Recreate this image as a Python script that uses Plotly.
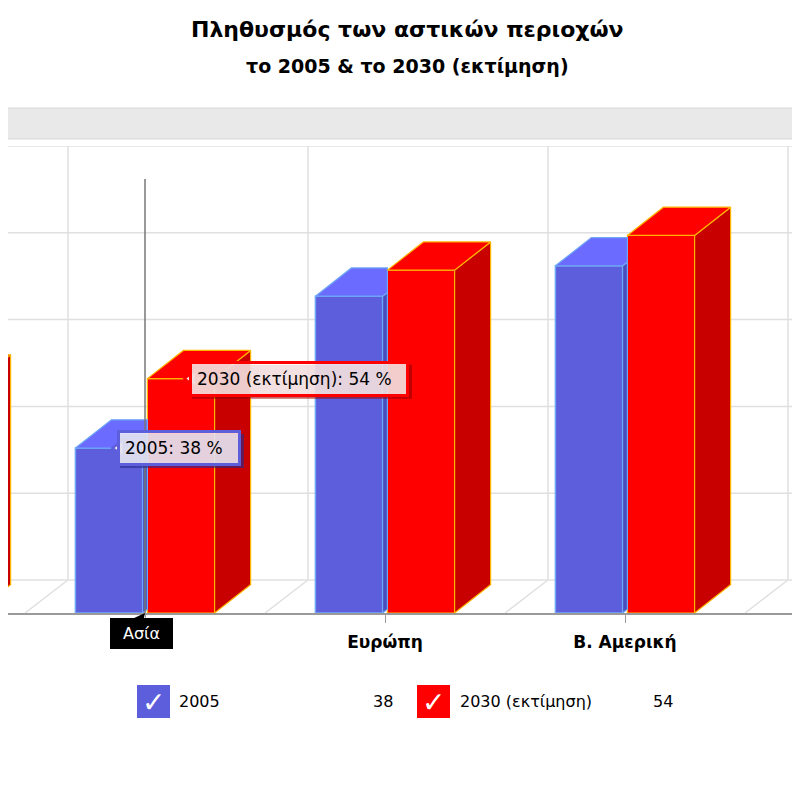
import plotly.graph_objects as go

# data
categories = ["Αφρική", "Ασία", "Ευρώπη", "Β. Αμερική", "Λατ. Αμερική"]
values_2005 = [38, 38, 73, 80, 77]
values_2030 = [53, 54, 79, 87, 85]
series_names = ["2005", "2030 (εκτίμηση)"]
value_ticks = [0, 20, 40, 60, 80, 100]
hover_index = 1  # the category under the cursor (Ασία)

# geometry of the fake 3D
BAR_W = 0.28
BLUE_OFF, RED_OFF = -0.29, 0.01
DEPTH_X, DEPTH_Y = 0.15, 6.5   # column depth
WALL_X, WALL_Y = 0.179, 7.6    # floor / back wall depth
PX = 1 / 240                   # one pixel in category units

BLUE, BLUE_TOP, BLUE_SIDE, BLUE_LINE = "#5c5edc", "#6b6cff", "#4a4cc0", "#6fa6f5"
RED, RED_TOP, RED_SIDE, RED_LINE = "#ff0000", "#ff0000", "#c80000", "#ffb400"
GRID = "#e0e0e0"
FONT = "DejaVu Sans"

idx = list(range(len(categories)))

# the page puts the figure 8px in from the top left corner;
# plot area on the page: rows 146..613, columns 8..808
T, B, OFF = 146, 613, 8


def py(px):
    """page pixel row -> paper y"""
    return (B - px) / (B - T)


def px_(px):
    """page pixel column -> paper x"""
    return (px - OFF) / 800


def box_faces(offset, vals, clip_to=None):
    """top and side faces of each column; clip_to cuts them at the next column's front"""
    top_x, top_y, side_x, side_y = [], [], [], []
    for i, v in zip(idx, vals):
        l = i + offset
        r = l + BAR_W
        if clip_to is None:
            tx = [l, r, r + DEPTH_X, l + DEPTH_X, l]
            ty = [v, v, v + DEPTH_Y, v + DEPTH_Y, v]
            sx = [r, r, r + DEPTH_X, r + DEPTH_X, r]
            sy = [0, v, v + DEPTH_Y, DEPTH_Y, 0]
        else:
            c = i + clip_to
            t = (c - r) / DEPTH_X
            tx = [l, r, c, c, l + DEPTH_X, l]
            ty = [v, v, v + DEPTH_Y * t, v + DEPTH_Y, v + DEPTH_Y, v]
            sx = [r, r, c, c, r]
            sy = [0, v, v + DEPTH_Y * t, DEPTH_Y * t, 0]
        top_x += tx + [None]
        top_y += ty + [None]
        side_x += sx + [None]
        side_y += sy + [None]
    return top_x, top_y, side_x, side_y


fig = go.Figure()

# front faces
fig.add_trace(go.Bar(x=idx, y=values_2005, offset=BLUE_OFF, width=BAR_W, name=series_names[0],
                     marker=dict(color=BLUE, line=dict(color=BLUE_LINE, width=1.5)), hoverinfo="skip"))
fig.add_trace(go.Bar(x=idx, y=values_2030, offset=RED_OFF, width=BAR_W, name=series_names[1],
                     marker=dict(color=RED, line=dict(color=RED_LINE, width=1.2)), hoverinfo="skip"))

# tops and sides
btx, bty, bsx, bsy = box_faces(BLUE_OFF, values_2005, clip_to=RED_OFF)
rtx, rty, rsx, rsy = box_faces(RED_OFF, values_2030)
for xs, ys, fill, line in [(bsx, bsy, BLUE_SIDE, BLUE_LINE), (btx, bty, BLUE_TOP, BLUE_LINE),
                           (rsx, rsy, RED_SIDE, RED_LINE), (rtx, rty, RED_TOP, RED_LINE)]:
    fig.add_trace(go.Scatter(x=xs, y=ys, mode="lines", fill="toself", fillcolor=fill,
                             line=dict(color=line, width=1.2), hoverinfo="skip", showlegend=False))

h = hover_index

# balloon pointers (notch on the left side of each balloon)
for off, vals, col in [(BLUE_OFF, values_2005, BLUE), (RED_OFF, values_2030, RED)]:
    fig.add_trace(go.Scatter(x=[h + off + BAR_W / 2 + 11 * PX], y=[vals[h]], mode="markers",
                             marker=dict(symbol="triangle-left", size=15, color="rgba(250,232,238,1)",
                                         line=dict(color=col, width=2.5)),
                             hoverinfo="skip", showlegend=False, cliponaxis=False))

# back wall and floor grid
shapes = []
for v in value_ticks:
    shapes.append(dict(type="line", xref="paper", x0=0, x1=1, yref="y", y0=v + WALL_Y, y1=v + WALL_Y,
                       line=dict(color=GRID, width=1.5), layer="below"))
for i in range(len(categories) + 1):
    b = i - 0.5
    shapes.append(dict(type="line", xref="x", yref="y", x0=b + WALL_X, x1=b + WALL_X,
                       y0=WALL_Y, y1=value_ticks[-1] + WALL_Y, line=dict(color=GRID, width=1.5), layer="below"))
    shapes.append(dict(type="line", xref="x", yref="y", x0=b, x1=b + WALL_X, y0=0, y1=WALL_Y,
                       line=dict(color=GRID, width=1.5), layer="below"))

# cursor line
shapes.append(dict(type="line", xref="x", yref="y", x0=h, x1=h, y0=0, y1=value_ticks[-1],
                   line=dict(color="#777777", width=1.5), layer="above"))

# scrollbar
shapes.append(dict(type="rect", xref="paper", yref="paper", x0=-0.02, x1=1.02, y0=py(139), y1=py(108),
                   fillcolor="#e9e9e9", line=dict(color="#d8d8d8", width=1)))

# legend squares
for x0, col in [(137, BLUE), (417, RED)]:
    shapes.append(dict(type="rect", xref="paper", yref="paper", x0=px_(x0), x1=px_(x0 + 33),
                       y0=py(718), y1=py(685), fillcolor=col, line=dict(width=0)))

annotations = [
    dict(text="<b>Πληθυσμός των αστικών περιοχών</b>", x=px_(407), y=py(30), xref="paper", yref="paper",
         yanchor="middle", showarrow=False, font=dict(size=22, color="#000000", family=FONT)),
    dict(text="<b>το 2005 & το 2030 (εκτίμηση)</b>", x=px_(407), y=py(66), xref="paper", yref="paper",
         yanchor="middle", showarrow=False, font=dict(size=19, color="#000000", family=FONT)),
]

# value balloons, each with a soft shadow behind it
for off, vals, name, col, shade, w in [(BLUE_OFF, values_2005, series_names[0], BLUE, "rgba(40,40,140,0.6)", 108),
                                       (RED_OFF, values_2030, series_names[1], RED, "rgba(150,0,0,0.6)", 204)]:
    cx = h + off + BAR_W / 2
    shapes.append(dict(type="rect", xref="x", yref="y", xsizemode="pixel", ysizemode="pixel",
                       xanchor=cx, yanchor=vals[h], x0=11, x1=11 + w + 16, y0=-20, y1=14,
                       fillcolor=shade, line=dict(width=0), layer="above"))
    annotations.append(dict(x=cx, y=vals[h], xref="x", yref="y", text=f"{name}: {vals[h]} %",
                            showarrow=False, xanchor="left", yanchor="middle", width=w, align="left",
                            xshift=8, bgcolor="rgba(255,255,255,0.8)", bordercolor=col,
                            borderwidth=3, borderpad=5, font=dict(size=17, family=FONT, color="#000000")))

# category balloon
annotations.append(dict(
    x=h, y=0, xref="x", yref="y", text=categories[h], showarrow=True, ax=-4, ay=5, yanchor="top",
    arrowhead=2, arrowsize=1, arrowwidth=3, arrowcolor="#000000", standoff=0,
    width=51, height=19, bgcolor="#000000", bordercolor="#000000", borderwidth=1, borderpad=5,
    font=dict(size=16, color="#ffffff", family=FONT)))

# legend texts
for sq, label_x, value_x, vals, name in [(137, 177, 395, values_2005, series_names[0]),
                                         (417, 458, 675, values_2030, series_names[1])]:
    annotations.append(dict(text="✓", x=px_(sq + 16.5), y=py(702), xref="paper", yref="paper",
                            xanchor="center", yanchor="middle", showarrow=False,
                            font=dict(size=28, color="#ffffff", family=FONT)))
    annotations.append(dict(text=name, x=px_(label_x), y=py(701), xref="paper", yref="paper",
                            xanchor="left", yanchor="middle", showarrow=False,
                            font=dict(size=16, color="#000000", family=FONT)))
    annotations.append(dict(text=str(vals[h]), x=px_(value_x), y=py(701), xref="paper", yref="paper",
                            xanchor="right", yanchor="middle", showarrow=False,
                            font=dict(size=16, color="#000000", family=FONT)))

ticktext = ["" if i == h else f"<b>{c}</b>" for i, c in enumerate(categories)]

fig.update_layout(
    width=800, height=800,
    margin=dict(l=0, r=0, t=T - OFF, b=800 - (B - OFF)),
    paper_bgcolor="white", plot_bgcolor="white",
    showlegend=False, hovermode=False,
    shapes=shapes, annotations=annotations,
    font=dict(family=FONT, color="#000000"),
    xaxis=dict(range=[h - (145 - OFF) / 240, h + (800 + OFF - 145) / 240], tickvals=idx, ticktext=ticktext,
               showgrid=False, zeroline=False, showline=True, linecolor="#9a9a9a", linewidth=2,
               ticks="outside", ticklen=8, tickcolor="#9a9a9a", tickwidth=1,
               ticklabelstandoff=5, tickfont=dict(size=17, color="#000000", family=FONT)),
    yaxis=dict(range=[0, value_ticks[-1] + WALL_Y], showgrid=False, zeroline=False,
               showticklabels=False, showline=False),
)

fig.write_html("out.html")
